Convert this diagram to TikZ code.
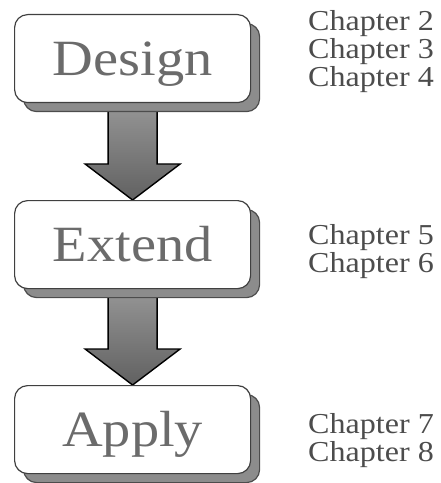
\documentclass[tikz,border=0pt]{standalone}
\newif\ifpalatino
\IfFileExists{mathpazo.sty}{\IfFileExists{pplr8t.tfm}{\palatinotrue}{}}{}
\ifpalatino
  \usepackage[T1]{fontenc}
  \usepackage{mathpazo}
  \newcommand\stagesize{\fontsize{51}{51}\selectfont}
  \newcommand\chapsize{\fontsize{29}{29}\selectfont}
  \newcommand\widen{1}
\else
  \usepackage{fontspec}
  \setmainfont{Liberation Serif}
  \newcommand\stagesize{\fontsize{51}{51}\selectfont}
  \newcommand\chapsize{\fontsize{29}{29}\selectfont}
  \newcommand\widen{1.11}
\fi
\usetikzlibrary{calc,shadows}
\pgfdeclarelayer{background}
\pgfsetlayers{background,main}

\tikzset{
  stage/.style={draw=black!75, line width=1.2bp, fill=white,
    rounded corners=13bp, minimum width=236bp, minimum height=88bp,
    anchor=north west, inner sep=0pt, text=black!58,
    text height=34bp, text depth=0pt,
    font=\stagesize,
    drop shadow={shadow xshift=9bp, shadow yshift=-9bp,
      fill=black!45, draw=black!70, opacity=1}},
  chap/.style={anchor=base west, inner sep=0pt, text=black!70,
    font=\chapsize},
  bigarrow/.style={draw=black, line width=1.4bp, line join=miter,
    top color=black!42, bottom color=black!62}
}

% block arrow from the shadow edge of one box to the top of the next
\newcommand\flowarrow[2]{%
  \path ($(#1.south)+(0,9)$) coordinate (#1-from) (#2.north) coordinate (#2-to);
  \begin{pgfonlayer}{background}
    \draw[bigarrow] ($(#1-from)+(-24.5,-6)$) -- ($(#2-to)+(-24.5,-36)$)
      -- ($(#2-to)+(-47.5,-36)$) -- (#2-to) -- ($(#2-to)+(47.5,-36)$)
      -- ($(#2-to)+(24.5,-36)$) -- ($(#1-from)+(24.5,-6)$);
  \end{pgfonlayer}}

\begin{document}
\begin{tikzpicture}[x=1bp, y=-1bp]
  \useasboundingbox (0,0) rectangle (441,483);

  \node[stage] (design) at (14,14)  {\scalebox{\widen}[1]{Design}};
  \node[stage] (extend) at (14,200) {\scalebox{\widen}[1]{Extend}};
  \node[stage] (apply)  at (14,385) {\scalebox{\widen}[1]{Apply}};

  \flowarrow{design}{extend}
  \flowarrow{extend}{apply}

  \node[chap] (ch2) at (308,31)  {\scalebox{\widen}[1]{Chapter 2}};
  \node[chap] (ch3) at (308,59)  {\scalebox{\widen}[1]{Chapter 3}};
  \node[chap] (ch4) at (308,87)  {\scalebox{\widen}[1]{Chapter 4}};
  \node[chap] (ch5) at (308,244) {\scalebox{\widen}[1]{Chapter 5}};
  \node[chap] (ch6) at (308,272) {\scalebox{\widen}[1]{Chapter 6}};
  \node[chap] (ch7) at (308,433) {\scalebox{\widen}[1]{Chapter 7}};
  \node[chap] (ch8) at (308,461) {\scalebox{\widen}[1]{Chapter 8}};
\end{tikzpicture}
\end{document}
